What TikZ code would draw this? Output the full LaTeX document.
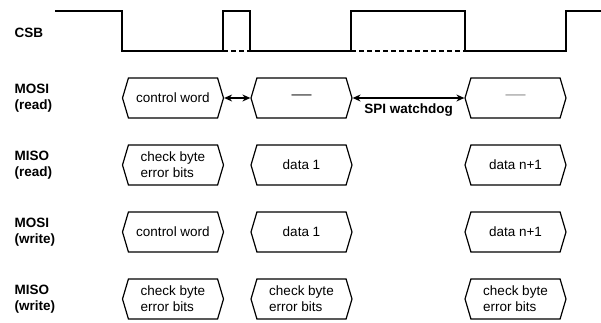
\documentclass[tikz,border=0pt]{standalone}
\usepackage{fontspec}
\setmainfont{Liberation Sans}
\usepackage{xcolor}
\usetikzlibrary{arrows.meta,shapes.symbols}

\begin{document}
\begin{tikzpicture}[x=1pt,y=-1pt,line width=1.2pt]
    \useasboundingbox (0,0) rectangle (601,322);

    % signal names
    \begin{scope}[every node/.style={anchor=west, align=left, inner sep=0pt,
                    font=\fontsize{13.5}{16.5}\selectfont\bfseries}]
        \node (csb)    at (14, 33)  {CSB};
        \node (mosiR)  at (14, 98)  {MOSI\\(read)};
        \node (misoR)  at (14,165)  {MISO\\(read)};
        \node (mosiW)  at (14,232)  {MOSI\\(write)};
        \node (misoW)  at (14,299)  {MISO\\(write)};
    \end{scope}

    % chip select
    \draw (55,11) -- (122,11) -- (122,51) -- (223,51) -- (223,11) -- (250,11)
          -- (250,51) -- (351,51) -- (351,11) -- (465,11) -- (465,51)
          -- (566,51) -- (566,11) -- (601,11);
    \draw[dash pattern=on 5pt off 3pt] (223,51) -- (250,51);
    \draw[dash pattern=on 5pt off 3pt] (351,51) -- (465,51);

    % data frames
    \begin{scope}[every node/.style={signal, signal to=west and east, signal pointer angle=147,
                    draw, minimum width=101pt, minimum height=40pt, inner sep=0pt,
                    align=left, font=\fontsize{13.5}{16}\selectfont}]
        \node (ctrlR)  at (173,  98)  {control word};
        \node (idleA)  at (301.5,98)  {\color{black!70}\fontsize{20}{20}\selectfont\textemdash};
        \node (idleB)  at (515.5,98)  {\color{black!35}\fontsize{20}{20}\selectfont\textemdash};

        \node (chkR)   at (173, 165)  {check byte\\error bits};
        \node (datR)   at (301.5,165) {data 1};
        \node (datRn)  at (515.5,165) {data n+1};

        \node (ctrlW)  at (173, 232)  {control word};
        \node (datW)   at (301.5,232) {data 1};
        \node (datWn)  at (515.5,232) {data n+1};

        \node (chkW)   at (173, 299)  {check byte\\error bits};
        \node (chkWa)  at (301.5,299) {check byte\\error bits};
        \node (chkWn)  at (515.5,299) {check byte\\error bits};
    \end{scope}

    \begin{scope}[>={Stealth[length=8pt,width=7pt]}]
        \path [<->] (ctrlR.east) edge (idleA.west);
        \path [<->] (idleA.east) edge node[below=5pt, inner sep=0pt,
                        font=\fontsize{13.5}{15}\selectfont\bfseries] {SPI watchdog} (idleB.west);
    \end{scope}
\end{tikzpicture}
\end{document}
